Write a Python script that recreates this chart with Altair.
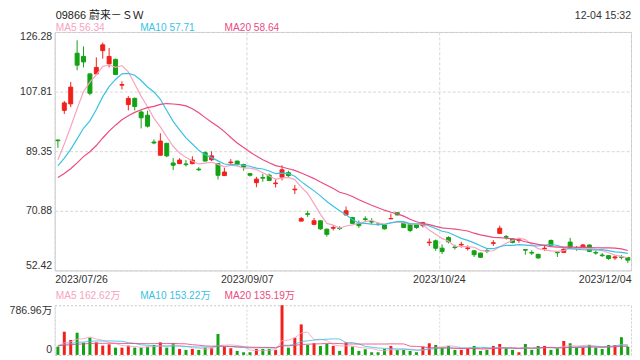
import altair as alt
import pandas as pd

# ---------------- data ----------------
stock_title = "09866 蔚来－ＳＷ"
timestamp = "12-04 15:32"
price_ma_labels = ["MA5 56.34", "MA10 57.71", "MA20 58.64"]
volume_ma_labels = ["MA5 162.62万", "MA10 153.22万", "MA20 135.19万"]
x_tick_positions = [0, 30, 60, 90]
x_tick_labels = ["2023/07/26", "2023/09/07", "2023/10/24", "2023/12/04"]
price_ticks = [52.42, 70.88, 89.35, 107.81, 126.28]
volume_max = 786.96

open_ = [92.8, 102.0, 104.0, 119.7, 118.7, 113.3, 113.3, 120.5, 116.4, 117.8,
         109.8, 103.8, 105.7, 101.5, 100.5, 92.2, 88.1, 91.8, 85.7, 85.5,
         85.4, 85.5, 83.8, 88.9, 86.7, 85.5, 81.8, 85.8, 86.3, 85.2,
         82.4, 79.6, 81.2, 81.9, 79.3, 81.3, 82.7, 77.4, 67.7, 70.0,
         66.7, 67.8, 65.2, 65.5, 65.6, 69.6, 68.8, 67.0, 68.4, 67.6,
         66.8, 66.5, 68.4, 70.3, 67.2, 66.7, 66.5, 66.3, 61.0, 61.6,
         59.3, 62.6, 59.7, 60.3, 59.2, 58.5, 57.8, 58.6, 60.8, 63.9,
         62.9, 62.2, 61.7, 58.9, 58.0, 57.4, 59.1, 61.7, 58.0, 58.0,
         61.2, 59.4, 59.3, 60.3, 58.0, 57.2, 57.0, 56.3, 56.6, 56.4]
high = [93.0, 104.9, 110.8, 123.7, 121.8, 113.4, 118.4, 123.0, 121.3, 118.0,
        111.0, 106.4, 106.0, 102.0, 101.9, 93.0, 94.9, 91.9, 87.2, 87.2,
        86.6, 87.8, 84.4, 89.3, 89.3, 85.6, 84.2, 86.9, 86.4, 85.5,
        82.6, 81.4, 82.3, 82.4, 80.7, 85.0, 83.3, 78.9, 69.0, 70.9,
        68.7, 67.9, 65.4, 66.4, 66.1, 72.2, 69.0, 67.9, 69.2, 68.6,
        67.3, 66.6, 70.0, 70.5, 67.4, 66.9, 66.8, 67.5, 62.3, 62.0,
        60.5, 63.0, 60.4, 61.3, 60.2, 58.7, 57.9, 59.3, 61.8, 66.3,
        63.4, 62.4, 62.5, 59.0, 58.7, 57.6, 60.0, 62.0, 58.1, 59.2,
        62.5, 60.0, 60.6, 60.5, 58.6, 57.8, 57.1, 57.0, 57.2, 56.6]
low = [90.4, 100.9, 103.0, 114.4, 115.3, 106.7, 113.1, 118.0, 115.3, 113.0,
       108.5, 102.0, 102.0, 96.4, 96.7, 91.5, 88.0, 87.5, 83.5, 85.4,
       84.6, 85.3, 83.2, 86.2, 86.3, 80.6, 81.7, 85.3, 84.7, 83.3,
       81.5, 78.2, 79.9, 80.2, 78.1, 80.3, 81.3, 76.1, 67.6, 69.0,
       66.4, 65.0, 62.9, 64.8, 64.9, 69.5, 66.8, 65.6, 67.6, 66.7,
       66.3, 65.1, 68.4, 69.5, 65.6, 64.3, 65.3, 65.7, 60.0, 58.5,
       57.5, 60.8, 58.9, 59.5, 58.6, 56.6, 56.3, 57.8, 60.0, 63.8,
       62.0, 60.8, 61.0, 57.3, 57.2, 56.0, 58.5, 60.0, 56.6, 57.9,
       59.5, 58.5, 59.2, 58.1, 57.3, 56.6, 55.7, 55.7, 55.8, 54.7]
close = [92.6, 104.3, 109.2, 116.0, 117.0, 107.3, 115.3, 122.3, 118.7, 113.1,
         110.0, 105.7, 103.2, 99.7, 97.1, 91.9, 92.5, 87.9, 85.0, 86.6,
         85.2, 86.6, 83.6, 86.3, 87.9, 81.9, 82.9, 86.0, 85.3, 84.4,
         81.9, 80.7, 81.0, 80.3, 79.5, 83.6, 81.8, 77.6, 68.5, 69.8,
         67.8, 65.3, 63.6, 65.7, 65.4, 70.9, 67.0, 66.3, 68.2, 67.4,
         66.6, 65.3, 68.5, 69.6, 65.7, 64.8, 65.7, 67.2, 61.2, 59.3,
         58.3, 61.3, 59.5, 60.5, 59.4, 57.3, 56.5, 58.4, 61.0, 65.5,
         62.7, 61.1, 61.9, 58.7, 57.8, 56.3, 59.3, 60.2, 57.9, 59.0,
         59.6, 59.2, 60.3, 58.3, 57.8, 57.0, 56.1, 56.6, 56.5, 55.6]
# volume in 万 shares
volume = [131, 367, 236, 351, 194, 273, 199, 147, 168, 115,
          115, 147, 115, 115, 131, 157, 199, 115, 184, 94,
          79, 94, 79, 115, 115, 331, 131, 105, 63, 42,
          42, 94, 94, 94, 79, 786.96, 115, 273, 483, 157,
          184, 142, 173, 142, 63, 199, 131, 63, 89, 42,
          42, 94, 142, 79, 79, 63, 42, 131, 184, 157,
          115, 142, 79, 79, 105, 142, 63, 79, 142, 173,
          105, 79, 42, 173, 79, 142, 142, 79, 105, 220,
          184, 115, 115, 157, 115, 94, 157, 157, 280, 131]
# sessions before the window (only feed the moving averages)
pre_close = [79.0, 80.0, 79.5, 78.5, 77.5, 76.5, 75.5, 76.0, 76.5, 77.0,
             80.5, 82.0, 83.5, 84.0, 84.4, 80.0, 82.5, 88.0, 90.5]
pre_volume = [120, 135, 150, 110, 125, 160, 140, 130, 145, 170,
              150, 125, 135, 160, 155, 140, 150, 145, 160]

# ---------------- styles ----------------
FONT = "Liberation Sans, Noto Sans CJK SC, sans-serif"
RED = "#f0211b"
GREEN = "#13a214"
C_MA5 = "#f7a3c1"
C_MA10 = "#3ac2e2"
C_MA20 = "#ec4a80"
GRID = "#d6d6d6"
TXT = "#333333"
W = 580

n = len(close)
df = pd.DataFrame({"idx": list(range(n)), "open": open_, "high": high,
                   "low": low, "close": close, "volume": volume})
df["xpos"] = df["idx"] + 0.5
df["dir"] = ["up" if c >= o else "down" for o, c in zip(open_, close)]

m = len(pre_close)
ma_df = pd.DataFrame({"idx": list(range(-m, n)),
                      "close": pre_close + close,
                      "volume": pre_volume + volume})
ma_df["xpos"] = ma_df["idx"] + 0.5

x_scale = alt.Scale(domain=[0, 90], nice=False, zero=False, padding=0)
p_scale = alt.Scale(domain=[price_ticks[0], price_ticks[-1]], nice=False, zero=False, padding=0)
v_scale = alt.Scale(domain=[0, volume_max], nice=False, zero=False, padding=0)
col = alt.Scale(domain=["up", "down"], range=[RED, GREEN])

x_expr = "".join(f"datum.value == {p} ? '{l}' : " for p, l in zip(x_tick_positions, x_tick_labels)) + "''"

x_axis_p = alt.Axis(values=x_tick_positions, labelExpr=x_expr, grid=True, gridColor=GRID,
                    gridDash=[3, 2], gridWidth=1, ticks=False, domain=False, labelFlush=True,
                    labelPadding=4, labelFontSize=10.6, labelColor=TXT, labelFont=FONT, title=None)
y_axis_p = alt.Axis(values=price_ticks, format=".2f", grid=True, gridColor=GRID, gridDash=[3, 2],
                    gridWidth=1, ticks=False, domain=False, labelFlush=True, labelPadding=3,
                    labelFontSize=10.6, labelColor=TXT, labelFont=FONT, title=None)
x_axis_v = alt.Axis(values=x_tick_positions, labels=False, grid=True, gridColor=GRID,
                    gridDash=[2, 2], gridWidth=1, ticks=False, domain=False, title=None)
y_axis_v = alt.Axis(values=[0, volume_max],
                    labelExpr="datum.value == 0 ? '0' : format(datum.value, '.2f') + '万'",
                    grid=False, ticks=False, domain=False, labelFlush=True, labelPadding=3,
                    labelFontSize=10.6, labelColor=TXT, labelFont=FONT, title=None)


def ma_layer(field, k, color, scale, width=1.2, opacity=1.0):
    return alt.Chart(ma_df).transform_window(
        ma=f"mean({field})", frame=[-(k - 1), 0], sort=[alt.SortField("idx")]
    ).transform_filter("datum.idx >= 0").mark_line(
        color=color, strokeWidth=width, opacity=opacity
    ).encode(x=alt.X("xpos:Q", scale=x_scale), y=alt.Y("ma:Q", scale=scale))


def text_layer(text, x, y, color, size, align="left", baseline="alphabetic"):
    return alt.Chart(pd.DataFrame({"t": [text]})).mark_text(
        align=align, baseline=baseline, fontSize=size, font=FONT, color=color
    ).encode(text="t:N", x=alt.value(x), y=alt.value(y))


wicks = alt.Chart(df).mark_rule(strokeWidth=1).encode(
    x=alt.X("xpos:Q", scale=x_scale, axis=x_axis_p),
    y=alt.Y("low:Q", scale=p_scale, axis=y_axis_p),
    y2="high:Q",
    color=alt.Color("dir:N", scale=col, legend=None),
)
bodies = alt.Chart(df).mark_bar(size=4, strokeWidth=1, orient="vertical").encode(
    x=alt.X("xpos:Q", scale=x_scale),
    y=alt.Y("open:Q", scale=p_scale),
    y2="close:Q",
    color=alt.Color("dir:N", scale=col, legend=None),
    stroke=alt.Stroke("dir:N", scale=col, legend=None),
)

price = alt.layer(
    wicks, bodies,
    ma_layer("close", 5, C_MA5, p_scale),
    ma_layer("close", 10, C_MA10, p_scale),
    ma_layer("close", 20, C_MA20, p_scale),
    text_layer(stock_title, 1, -13.5, "#222222", 11),
    text_layer(timestamp, W, -13.5, TXT, 10.6, align="right"),
    text_layer(price_ma_labels[0], 1, -1.2, C_MA5, 10.2),
    text_layer(price_ma_labels[1], 86, -1.2, C_MA10, 10.2),
    text_layer(price_ma_labels[2], 171, -1.2, C_MA20, 10.2),
).properties(width=W, height=240,
             view=alt.ViewBackground(stroke="#c8c8c8", strokeWidth=1))

vbars = alt.Chart(df).mark_bar(size=3, orient="vertical").encode(
    x=alt.X("xpos:Q", scale=x_scale, axis=x_axis_v),
    y=alt.Y("volume:Q", scale=v_scale, axis=y_axis_v, stack=None),
    color=alt.Color("dir:N", scale=col, legend=None),
)
vol = alt.layer(
    vbars,
    ma_layer("volume", 5, C_MA5, v_scale, 1.0, 0.85),
    ma_layer("volume", 10, C_MA10, v_scale, 1.0, 0.85),
    ma_layer("volume", 20, C_MA20, v_scale, 1.0, 0.85),
    text_layer(volume_ma_labels[0], 1, -6.7, C_MA5, 10.2),
    text_layer(volume_ma_labels[1], 86, -6.7, C_MA10, 10.2),
    text_layer(volume_ma_labels[2], 171, -6.7, C_MA20, 10.2),
).properties(width=W, height=50,
             view=alt.ViewBackground(stroke="#c8c8c8", strokeWidth=1, strokeDash=[2, 2]))

chart = alt.vconcat(price, vol, spacing=35, bounds="flush").properties(
    padding=0, background="white"
)

chart.save("out.html", embed_options={"renderer": "svg", "actions": False})
